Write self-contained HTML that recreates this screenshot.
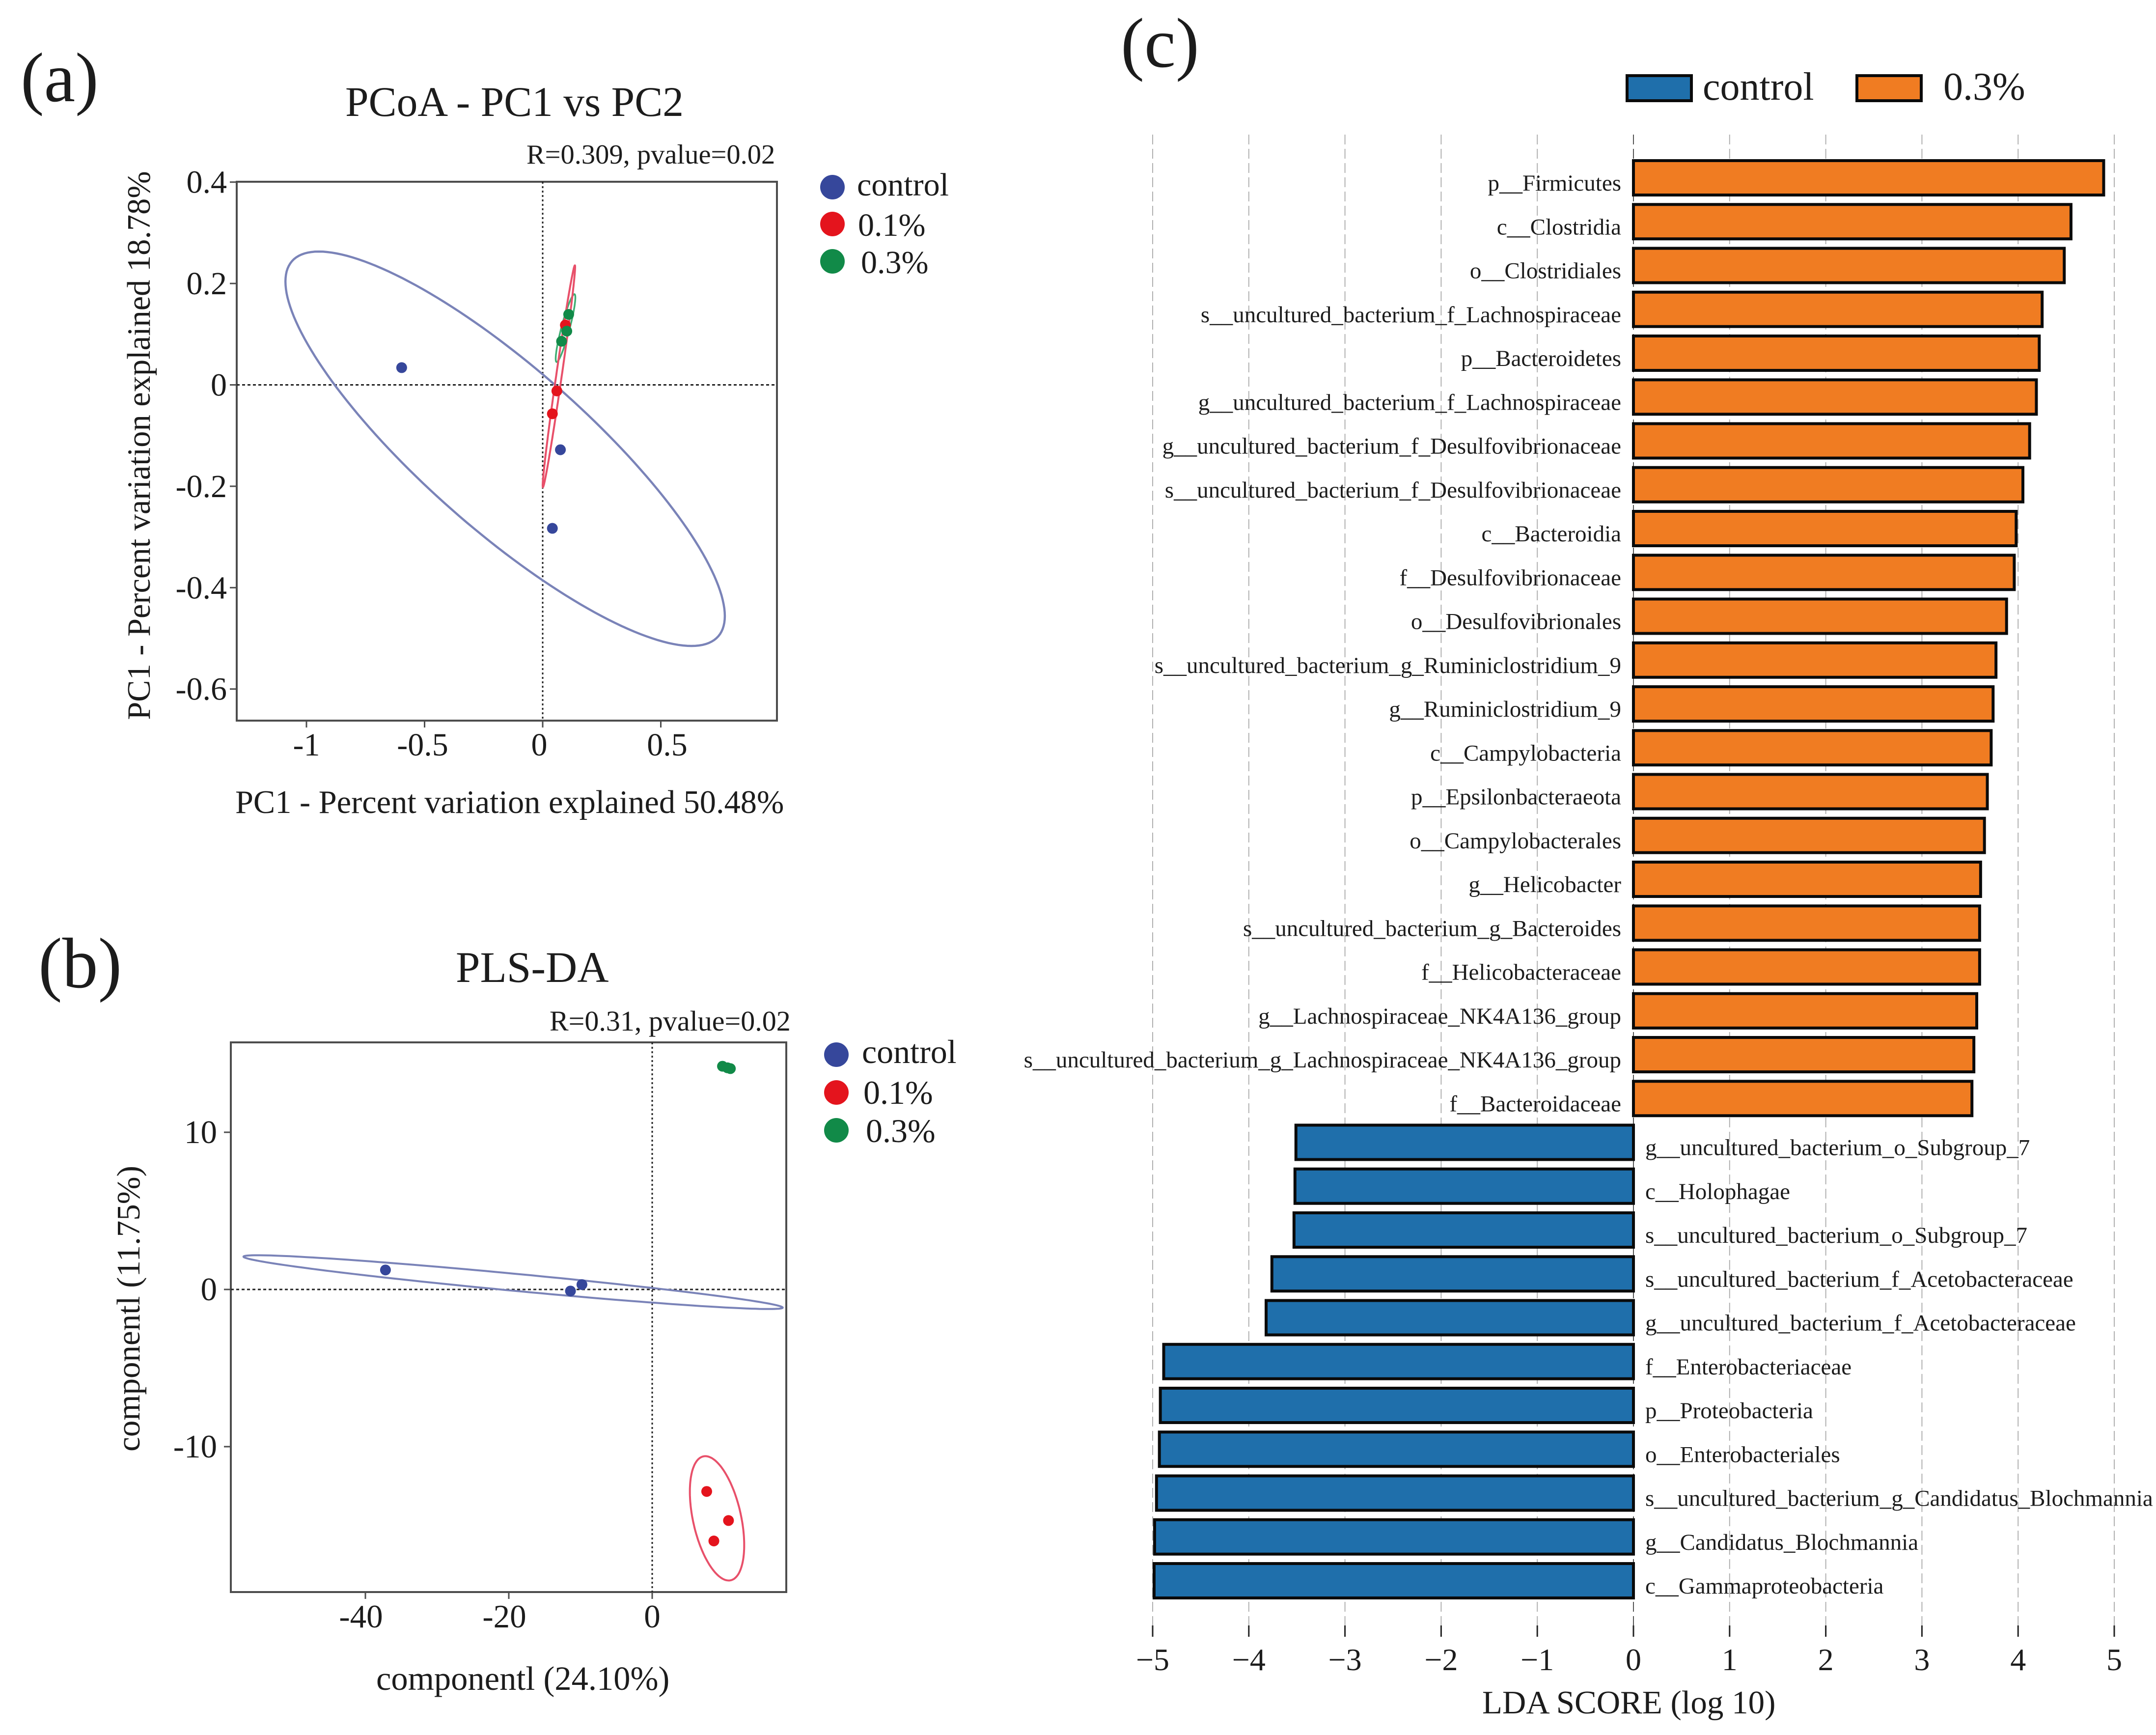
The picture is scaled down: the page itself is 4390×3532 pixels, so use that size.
<!DOCTYPE html>
<html lang="en">
<head>
<meta charset="utf-8">
<title>PCoA, PLS-DA and LDA score figure</title>
<style>
html,body{margin:0;padding:0;background:#fff;}
svg{display:block;}
text{font-family:"Liberation Serif",serif;fill:#1c1c1c;}
</style>
</head>
<body>
<svg id="fig" xmlns="http://www.w3.org/2000/svg" width="4390" height="3532" viewBox="0 0 4390 3532">
  <rect x="0" y="0" width="4390" height="3532" fill="#fff"/>

  <g id="panel-a">
    <text x="42" y="206" font-size="143">(a)</text>
    <text x="703" y="236" font-size="85.5">PCoA - PC1 vs PC2</text>
    <text x="1072" y="333" font-size="56.5">R=0.309, pvalue=0.02</text>
    <text x="479" y="1655" font-size="66.4">PC1 - Percent variation explained 50.48%</text>
    <text transform="translate(305,907) rotate(-90)" text-anchor="middle" font-size="66.4">PC1 - Percent variation explained 18.78%</text>
    <g id="plot-a"></g>
    <g>
      <circle cx="1695" cy="381" r="25" fill="#36479b"/>
      <text x="1745" y="398" font-size="66">control</text>
      <circle cx="1695" cy="456" r="25" fill="#e4141d"/>
      <text x="1747" y="480" font-size="66">0.1%</text>
      <circle cx="1695" cy="532" r="25" fill="#118a48"/>
      <text x="1753" y="556" font-size="66">0.3%</text>
    </g>
  </g>

  <g id="panel-b">
    <text x="78" y="2010" font-size="146">(b)</text>
    <text x="928" y="1999" font-size="89">PLS-DA</text>
    <text x="1119" y="2098" font-size="58">R=0.31, pvalue=0.02</text>
    <text x="766" y="3440" font-size="68.5">componentl (24.10%)</text>
    <text transform="translate(284,2664) rotate(-90)" text-anchor="middle" font-size="67">componentl (11.75%)</text>
    <g id="plot-b"></g>
    <g>
      <circle cx="1703" cy="2147" r="25" fill="#36479b"/>
      <text x="1755" y="2164" font-size="68">control</text>
      <circle cx="1703" cy="2224" r="25" fill="#e4141d"/>
      <text x="1758" y="2247" font-size="68">0.1%</text>
      <circle cx="1703" cy="2301" r="25" fill="#118a48"/>
      <text x="1763" y="2325" font-size="68">0.3%</text>
    </g>
  </g>

  <g id="panel-c">
    <text x="2282" y="136" font-size="144">(c)</text>
    <g>
      <rect x="3313" y="154" width="131" height="51" fill="#1f6fab" stroke="#0a0a0a" stroke-width="6"/>
      <text x="3467" y="203" font-size="80">control</text>
      <rect x="3781" y="154" width="131" height="51" fill="#f07c22" stroke="#0a0a0a" stroke-width="6"/>
      <text x="3957" y="203" font-size="80">0.3%</text>
    </g>
    <text x="3018" y="3488" font-size="67">LDA SCORE (log 10)</text>
    <g id="plot-c"></g>
  </g>
</svg>

<script>
// ---------- Panel (a) data: PCoA ----------
const pcoaXTicks = [-1, -0.5, 0, 0.5];
const pcoaYTicks = [0.4, 0.2, 0, -0.2, -0.4, -0.6];
const pcoaControlX = [-0.597, 0.075, 0.041];
const pcoaControlY = [0.034, -0.128, -0.283];
const pcoaLowX = [0.06, 0.041, 0.096];
const pcoaLowY = [-0.012, -0.057, 0.118];
const pcoaHighX = [0.11, 0.102, 0.08];
const pcoaHighY = [0.139, 0.106, 0.086];
// ellipse values: centre x, centre y, x half-range, y half-range, correlation
const pcoaControlEllipse = [-0.159, -0.126, 0.93, 0.389, -0.848];
const pcoaLowEllipse = [0.0686, 0.017, 0.0686, 0.2187, 0.985];
const pcoaHighEllipse = [0.0967, 0.112, 0.0416, 0.0669, 0.9];

// ---------- Panel (b) data: PLS-DA ----------
const plsXTicks = [-40, -20, 0];
const plsYTicks = [10, 0, -10];
const plsControlX = [-37.2, -11.4, -9.8];
const plsControlY = [1.24, -0.1, 0.31];
const plsLowX = [7.6, 10.64, 8.6];
const plsLowY = [-12.85, -14.7, -16.0];
const plsHighX = [9.8, 10.5, 10.9];
const plsHighY = [14.2, 14.1, 14.05];
const plsControlEllipse = [-19.4, 0.466, 37.6, 1.71, -0.948];
const plsLowEllipse = [9.04, -14.56, 3.79, 3.955, -0.43];

// ---------- Panel (c) data: LDA ----------
const ldaTicks = [-5, -4, -3, -2, -1, 0, 1, 2, 3, 4, 5];
const ldaCategories = [
  "p__Firmicutes", "c__Clostridia", "o__Clostridiales",
  "s__uncultured_bacterium_f_Lachnospiraceae", "p__Bacteroidetes",
  "g__uncultured_bacterium_f_Lachnospiraceae",
  "g__uncultured_bacterium_f_Desulfovibrionaceae",
  "s__uncultured_bacterium_f_Desulfovibrionaceae",
  "c__Bacteroidia", "f__Desulfovibrionaceae", "o__Desulfovibrionales",
  "s__uncultured_bacterium_g_Ruminiclostridium_9", "g__Ruminiclostridium_9",
  "c__Campylobacteria", "p__Epsilonbacteraeota", "o__Campylobacterales",
  "g__Helicobacter", "s__uncultured_bacterium_g_Bacteroides",
  "f__Helicobacteraceae", "g__Lachnospiraceae_NK4A136_group",
  "s__uncultured_bacterium_g_Lachnospiraceae_NK4A136_group", "f__Bacteroidaceae",
  "g__uncultured_bacterium_o_Subgroup_7", "c__Holophagae",
  "s__uncultured_bacterium_o_Subgroup_7",
  "s__uncultured_bacterium_f_Acetobacteraceae",
  "g__uncultured_bacterium_f_Acetobacteraceae",
  "f__Enterobacteriaceae", "p__Proteobacteria", "o__Enterobacteriales",
  "s__uncultured_bacterium_g_Candidatus_Blochmannia",
  "g__Candidatus_Blochmannia", "c__Gammaproteobacteria"
];
const ldaScores = [
  4.89, 4.55, 4.48, 4.25, 4.22, 4.19, 4.12, 4.05, 3.98, 3.96, 3.88,
  3.77, 3.74, 3.72, 3.68, 3.65, 3.61, 3.60, 3.60, 3.57, 3.54, 3.52,
  -3.51, -3.52, -3.53, -3.76, -3.82, -4.885, -4.92, -4.93, -4.96, -4.98, -4.985
];

// ---------- Helpers ----------
const NS = "http://www.w3.org/2000/svg";
function make(parent, tag, attrs, txt) {
  const el = document.createElementNS(NS, tag);
  for (const k in attrs) el.setAttribute(k, attrs[k]);
  if (txt !== undefined) el.textContent = txt;
  parent.appendChild(el);
  return el;
}
function ellipsePath(p, xf, yf) {
  const cx = p[0], cy = p[1], ax = p[2], ay = p[3], rho = p[4];
  const s = Math.sqrt(1 - rho * rho);
  let d = "";
  for (let i = 0; i <= 180; i++) {
    const t = i / 180 * Math.PI * 2;
    const vx = cx + ax * Math.cos(t);
    const vy = cy + ay * (rho * Math.cos(t) + s * Math.sin(t));
    d += (i ? "L" : "M") + xf(vx).toFixed(1) + " " + yf(vy).toFixed(1);
  }
  return d + "Z";
}
function drawEllipse(g, p, xf, yf, color, width, name) {
  const el = make(g, "path", { d: ellipsePath(p, xf, yf), fill: "none", stroke: color, "stroke-width": width });
  
  
}
function drawPoints(g, xs, ys, xf, yf, color, name) {
  xs.forEach(function (v, i) {
    const el = make(g, "circle", { cx: xf(v), cy: yf(ys[i]), r: 11, fill: color });
    
    
  });
}
function drawScatterAxes(g, o) {
  const frame = make(g, "rect", { x: o.left, y: o.top, width: o.right - o.left, height: o.bottom - o.top, fill: "none", stroke: "#4d4d4d", "stroke-width": 4 });
  
  
  const zeroV = make(g, "line", { x1: o.x(0), x2: o.x(0), y1: o.top, y2: o.bottom, stroke: "#222", "stroke-width": 3, "stroke-dasharray": "4 5" });
  
  
  const zeroH = make(g, "line", { x1: o.left, x2: o.right, y1: o.y(0), y2: o.y(0), stroke: "#222", "stroke-width": 3, "stroke-dasharray": "6 5" });
  
  
  o.xTicks.forEach(function (v) {
    const px = o.x(v);
    const tick = make(g, "line", { x1: px, x2: px, y1: o.bottom, y2: o.bottom + 14, stroke: "#4d4d4d", "stroke-width": 3 });
    
    
    const nudge = o.xNudge(v);
    const lab = make(g, "text", { x: px + nudge, y: o.xLabelY, "font-size": o.tickSize, "text-anchor": "middle" }, String(v));
    
    
  });
  o.yTicks.forEach(function (v) {
    const py = o.y(v);
    const tick = make(g, "line", { x1: o.left - 14, x2: o.left, y1: py, y2: py, stroke: "#4d4d4d", "stroke-width": 3 });
    
    
    const lab = make(g, "text", { x: o.yLabelX, y: py + 22, "font-size": o.tickSize, "text-anchor": "end" }, String(v));
    
    
  });
}

const BLUE = "#36479b", RED = "#e4141d", GREEN = "#118a48";

// ---------- Panel (a) ----------
const xA = function (v) { return 1105 + v * 481; };
const yA = function (v) { return 783.5 - v * 1032; };
const gA = document.getElementById("plot-a");
drawScatterAxes(gA, {
  left: 482, right: 1582, top: 370, bottom: 1467, x: xA, y: yA,
  xTicks: pcoaXTicks, yTicks: pcoaYTicks, xLabelY: 1538, yLabelX: 462, tickSize: 66,
  xNudge: function (v) { return v === 0.5 ? 13 : (v === 0 ? -7 : (v === -0.5 ? -4 : 0)); }
});
drawEllipse(gA, pcoaControlEllipse, xA, yA, "#7a83b8", 4.5, "pcoa-ellipse-control");
drawEllipse(gA, pcoaHighEllipse, xA, yA, "#3fae72", 3.5, "pcoa-ellipse-0.3");
drawEllipse(gA, pcoaLowEllipse, xA, yA, "#e8506a", 4, "pcoa-ellipse-0.1");
drawPoints(gA, pcoaControlX, pcoaControlY, xA, yA, BLUE, "pcoa-point-control");
drawPoints(gA, pcoaLowX, pcoaLowY, xA, yA, RED, "pcoa-point-0.1");
drawPoints(gA, pcoaHighX, pcoaHighY, xA, yA, GREEN, "pcoa-point-0.3");

// ---------- Panel (b) ----------
const xB = function (v) { return 1328 + v * 14.6; };
const yB = function (v) { return 2625 - v * 32; };
const gB = document.getElementById("plot-b");
drawScatterAxes(gB, {
  left: 470, right: 1601, top: 2122, bottom: 3241, x: xB, y: yB,
  xTicks: plsXTicks, yTicks: plsYTicks, xLabelY: 3313, yLabelX: 442, tickSize: 67,
  xNudge: function (v) { return v === 0 ? 0 : -9; }
});
drawEllipse(gB, plsControlEllipse, xB, yB, "#7a83b8", 4, "pls-da-ellipse-control");
drawEllipse(gB, plsLowEllipse, xB, yB, "#e8506a", 4, "pls-da-ellipse-0.1");
drawPoints(gB, plsControlX, plsControlY, xB, yB, BLUE, "pls-da-point-control");
drawPoints(gB, plsLowX, plsLowY, xB, yB, RED, "pls-da-point-0.1");
drawPoints(gB, plsHighX, plsHighY, xB, yB, GREEN, "pls-da-point-0.3");

// ---------- Panel (c) ----------
const xC = function (v) { return 3326 + v * 195.8; };
const yC = function (i) { return 362 + i * 89.25; };
const gC = document.getElementById("plot-c");
ldaTicks.forEach(function (v) {
  const px = xC(v);
  const grid = make(gC, "line", { x1: px, x2: px, y1: 274, y2: 3309, stroke: v === 0 ? "#555" : "#b0b0b0", "stroke-width": 2, "stroke-dasharray": "20 9" });
  
  
  const tick = make(gC, "line", { x1: px, x2: px, y1: 3309, y2: 3332, stroke: "#222", "stroke-width": 3 });
  
  
  const lab = make(gC, "text", { x: px, y: 3400, "font-size": 64, "text-anchor": "middle" }, v < 0 ? "\u2212" + Math.abs(v) : String(v));
  
  
});
ldaScores.forEach(function (v, i) {
  const x0 = xC(0), x1 = xC(v), cy = yC(i);
  const bar = make(gC, "rect", {
    x: Math.min(x0, x1), y: cy - 35, width: Math.abs(x1 - x0), height: 70,
    fill: v >= 0 ? "#f07c22" : "#1f6fab", stroke: "#0a0a0a", "stroke-width": 6
  });
  
  
  const lab = make(gC, "text", {
    x: v >= 0 ? 3301 : 3350, y: cy + 26, "font-size": 47,
    "text-anchor": v >= 0 ? "end" : "start"
  }, ldaCategories[i]);
  
  
});
</script>
</body>
</html>
